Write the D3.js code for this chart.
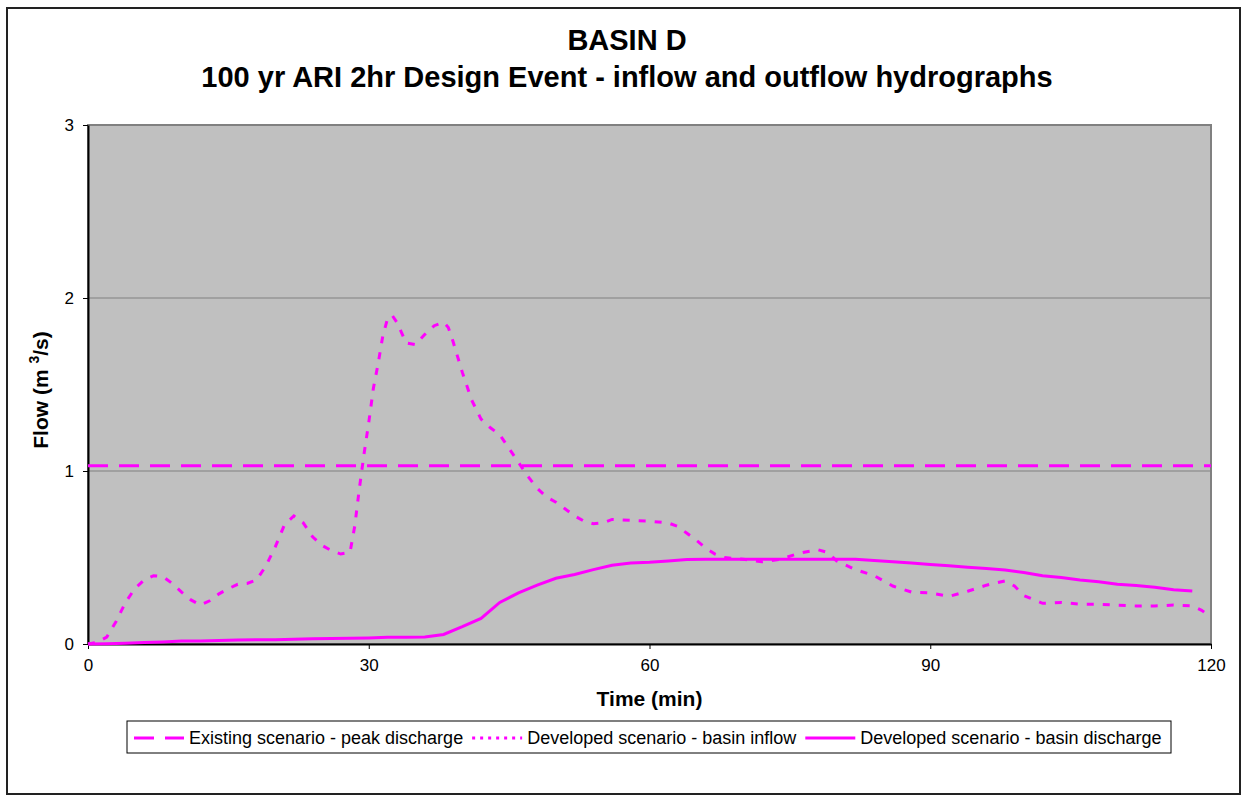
<!DOCTYPE html>
<html>
<head>
<meta charset="utf-8">
<script src="https://cdn.jsdelivr.net/npm/d3@7"></script>
<style>
  body { margin: 0; background: #fff; }
  text { font-family: "Liberation Sans", Arial, sans-serif; }
</style>
</head>
<body>
<div id="chart"></div>
<script>
// Existing scenario peak discharge (constant line)
const existingPeak = 1.03;

// Developed scenario - basin inflow
const inflowTime = [0, 1, 2, 3, 4, 5, 6, 7, 8, 9, 10, 11, 12, 13, 14, 15, 16, 17, 18, 19,
  20, 21, 22, 23, 24, 25, 26, 27, 28, 28.5, 29, 29.5, 30, 30.5, 31, 31.5, 32, 32.5, 33, 34,
  35, 36, 37, 38, 38.5, 39, 40, 41, 42, 43, 44, 45, 46, 47, 48, 49, 50, 51, 52, 53,
  54, 55, 56, 58, 60, 62, 63, 64, 65, 66, 67, 68, 70, 72, 74, 76, 78, 79, 80, 82,
  84, 86, 88, 90, 92, 94, 96, 98, 99, 100, 102, 104, 106, 108, 110, 112, 114, 116, 118, 119, 120];
const inflowFlow = [0, 0.01, 0.04, 0.13, 0.24, 0.32, 0.37, 0.395, 0.39, 0.35, 0.30, 0.255, 0.225, 0.25, 0.29, 0.32, 0.345, 0.35, 0.37, 0.45,
  0.56, 0.69, 0.74, 0.70, 0.62, 0.57, 0.54, 0.52, 0.53, 0.68, 0.90, 1.10, 1.28, 1.48, 1.62, 1.78, 1.88, 1.90, 1.86, 1.74,
  1.73, 1.79, 1.84, 1.86, 1.83, 1.75, 1.57, 1.41, 1.30, 1.25, 1.21, 1.13, 1.05, 0.97, 0.90, 0.85, 0.82, 0.78, 0.74, 0.71,
  0.695, 0.70, 0.72, 0.715, 0.71, 0.70, 0.68, 0.64, 0.60, 0.555, 0.52, 0.50, 0.49, 0.475, 0.49, 0.525, 0.545, 0.53, 0.48, 0.43,
  0.395, 0.335, 0.30, 0.295, 0.275, 0.305, 0.34, 0.365, 0.335, 0.28, 0.235, 0.24, 0.23, 0.23, 0.225, 0.22, 0.22, 0.225, 0.22, 0.195, 0.155];

// Developed scenario - basin discharge
const dischargeTime = [0, 2, 4, 6, 8, 10, 12, 14, 16, 18, 20, 22, 24, 26, 28, 30, 32, 34, 36, 38,
  40, 42, 44, 46, 48, 50, 52, 54, 56, 58, 60, 62, 64, 66, 70, 74, 78, 82, 84, 86,
  88, 90, 92, 94, 96, 98, 100, 102, 104, 106, 108, 110, 112, 114, 116, 118];
const dischargeFlow = [0, 0.002, 0.005, 0.008, 0.012, 0.017, 0.018, 0.02, 0.023, 0.024, 0.025, 0.027, 0.031, 0.032, 0.033, 0.035, 0.039, 0.039, 0.04, 0.055,
  0.10, 0.148, 0.24, 0.295, 0.34, 0.38, 0.402, 0.43, 0.455, 0.468, 0.472, 0.48, 0.488, 0.49, 0.49, 0.49, 0.49, 0.49, 0.482, 0.476,
  0.468, 0.46, 0.452, 0.444, 0.436, 0.428, 0.413, 0.395, 0.385, 0.37, 0.36, 0.346, 0.338, 0.328, 0.314, 0.306];

const xTicks = [0, 30, 60, 90, 120];
const yTicks = [0, 1, 2, 3];
const legendLabels = ["Existing scenario - peak discharge", "Developed scenario - basin inflow", "Developed scenario - basin discharge"];

const W = 1242, H = 796;
const margin = { top: 125, right: 31, bottom: 152, left: 88 };
const width = W - margin.left - margin.right;
const height = H - margin.top - margin.bottom;
const magenta = "#ff00ff";

const svg = d3.select("#chart").append("svg")
  .attr("width", W)
  .attr("height", H);

// Outer chart border
svg.append("rect")
  .attr("x", 7).attr("y", 8)
  .attr("width", 1233).attr("height", 786)
  .attr("fill", "#fff")
  .attr("stroke", "#222")
  .attr("stroke-width", 2);

// Titles
svg.append("text")
  .attr("x", 627).attr("y", 50)
  .attr("text-anchor", "middle")
  .style("font-size", "29px").style("font-weight", "bold")
  .text("BASIN D");
svg.append("text")
  .attr("x", 627).attr("y", 87)
  .attr("text-anchor", "middle")
  .style("font-size", "29px").style("font-weight", "bold")
  .text("100 yr ARI 2hr Design Event - inflow and outflow hydrographs");

const g = svg.append("g")
  .attr("transform", `translate(${margin.left},${margin.top})`);

const x = d3.scaleLinear().domain([0, 120]).range([0, width]);
const y = d3.scaleLinear().domain([0, 3]).range([height, 0]);

// Plot area
g.append("rect")
  .attr("width", width).attr("height", height)
  .attr("fill", "#c0c0c0")
  .attr("stroke", "#808080")
  .attr("stroke-width", 2);

// Gridlines
g.selectAll(".grid")
  .data(yTicks.filter(d => d > 0 && d < 3))
  .enter().append("line")
  .attr("x1", 0).attr("x2", width)
  .attr("y1", d => y(d)).attr("y2", d => y(d))
  .attr("stroke", "#808080")
  .attr("stroke-width", 1);

// Axes
const xAxis = g.append("g")
  .attr("transform", `translate(0,${height})`)
  .call(d3.axisBottom(x).tickValues(xTicks).tickFormat(d3.format("d")).tickSize(5).tickPadding(10).tickSizeOuter(0));
const yAxis = g.append("g")
  .call(d3.axisLeft(y).tickValues(yTicks).tickFormat(d3.format("d")).tickSize(5).tickPadding(9).tickSizeOuter(0));
[xAxis, yAxis].forEach(a => {
  a.select(".domain").attr("stroke", "#000").attr("stroke-width", 2);
  a.selectAll(".tick line").attr("stroke", "#000");
  a.selectAll("text")
    .style("font-family", "'Liberation Sans', Arial, sans-serif")
    .style("font-size", "17px")
    .attr("fill", "#000");
});

// Axis titles
svg.append("text")
  .attr("x", margin.left + width / 2).attr("y", 706)
  .attr("text-anchor", "middle")
  .style("font-size", "21px").style("font-weight", "bold")
  .text("Time (min)");

const yLabel = svg.append("text")
  .attr("transform", `translate(48,390) rotate(-90)`)
  .attr("text-anchor", "middle")
  .style("font-size", "21px").style("font-weight", "bold");
yLabel.append("tspan").text("Flow (m ");
yLabel.append("tspan").attr("dy", -9).style("font-size", "14px").text("3");
yLabel.append("tspan").attr("dy", 9).text("/s)");

// Series
const line = d3.line().x(d => x(d[0])).y(d => y(d[1]));
const inflow = inflowTime.map((t, i) => [t, inflowFlow[i]]);
const discharge = dischargeTime.map((t, i) => [t, dischargeFlow[i]]);

const plot = g.append("g");
plot.append("path")
  .datum([[0, existingPeak], [120, existingPeak]])
  .attr("d", line)
  .attr("fill", "none")
  .attr("stroke", magenta)
  .attr("stroke-width", 3)
  .attr("stroke-dasharray", "20,11");

plot.append("path")
  .datum(inflow)
  .attr("d", line)
  .attr("fill", "none")
  .attr("stroke", magenta)
  .attr("stroke-width", 3)
  .attr("stroke-dasharray", "7,9");

plot.append("path")
  .datum(discharge)
  .attr("d", line)
  .attr("fill", "none")
  .attr("stroke", magenta)
  .attr("stroke-width", 3);

// Legend
const legend = svg.append("g");
legend.append("rect")
  .attr("x", 127).attr("y", 721)
  .attr("width", 1044).attr("height", 32)
  .attr("fill", "#fff")
  .attr("stroke", "#000")
  .attr("stroke-width", 1);

const dashes = ["20,11", "3,5", null];
let lx = 134;
legendLabels.forEach((label, i) => {
  const sample = legend.append("line")
    .attr("x1", lx).attr("x2", lx + 50)
    .attr("y1", 738).attr("y2", 738)
    .attr("stroke", magenta)
    .attr("stroke-width", 3);
  if (dashes[i]) sample.attr("stroke-dasharray", dashes[i]);
  const t = legend.append("text")
    .attr("x", lx + 55).attr("y", 744)
    .style("font-size", "18px")
    .text(label);
  lx += 55 + t.node().getComputedTextLength() + 9;
});
</script>
</body>
</html>
